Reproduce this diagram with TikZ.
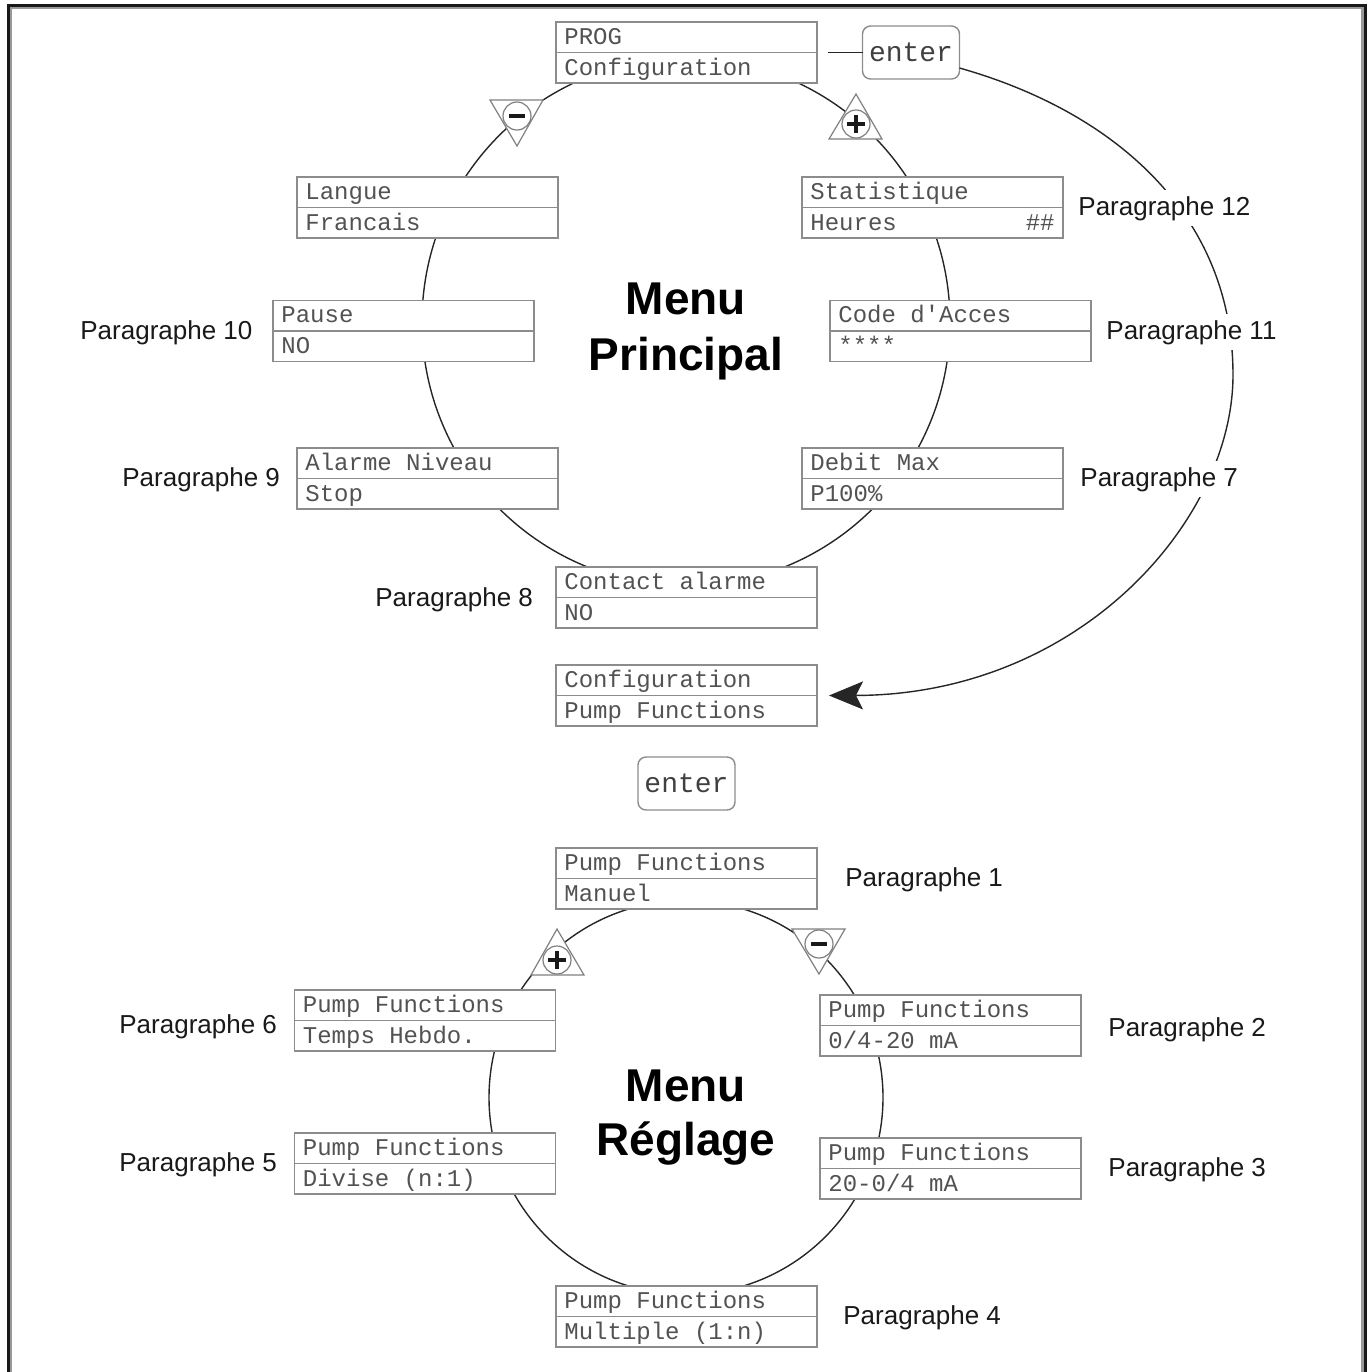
\documentclass[tikz,border=0pt]{standalone}
\usepackage{fontspec}
\setmainfont{Liberation Sans}
\newfontfamily\monof{Liberation Mono}
\usetikzlibrary{arrows.meta,calc}
\tikzset{
  mbox/.style={draw=black!45, line width=0.7pt, fill=white, minimum width=130.5pt, minimum height=30.5pt, inner sep=0pt, outer sep=0pt},
  divline/.style={draw=black!45, line width=0.7pt},
  mtext/.style={anchor=base west, inner sep=0pt, font=\monof\fontsize{12}{14}\selectfont, text=black!68},
  entbox/.style={draw=black!45, line width=0.7pt, fill=white, rounded corners=4pt, minimum width=48.5pt, minimum height=26.5pt, inner sep=0pt, outer sep=0pt, font=\monof\fontsize{14}{16}\selectfont, text=black!75},
  ring/.style={draw=black!85, line width=0.7pt},
  conn/.style={draw=black!85, line width=0.7pt},
  bigarrow/.style={draw=black!85, line width=0.7pt, -{Stealth[length=17pt, width=14pt, inset=3.5pt]}},
  tri/.style={draw=black!50, fill=white, line width=0.6pt},
  symc/.style={circle, draw=black!50, fill=white, line width=0.6pt, minimum size=14pt, inner sep=0pt},
  sym/.style={draw=black!90, line width=1.6pt},
  plabel/.style={anchor=base west, fill=white, inner xsep=1pt, inner ysep=3pt, font=\fontsize{13}{15}\selectfont, text=black!90},
  ttl/.style={anchor=base, inner sep=0pt, font=\bfseries\fontsize{23}{28}\selectfont},
}
\newcommand\menubox[4]{%
  \node[mbox] (#1) at (#2) {};
  \draw[divline] (#1.west) -- (#1.east);
  \node[mtext] (#1-a) at ($(#1.north west)+(8,22)$) {#3};
  \node[mtext] (#1-b) at ($(#1.north west)+(8,53)$) {#4};
}
\begin{document}
\begin{tikzpicture}[x=0.5pt,y=-0.5pt]
\useasboundingbox (0,0) rectangle (1370,1372);
% frame
\draw[black!40, line width=2pt] (10,1400) |- (1363,7) -- (1363,1400);
\draw[black!90, line width=1.5pt] (8,1400) |- (1365,5) -- (1365,1400);
% circles
\draw[ring] (686,322) circle [radius=264];
\draw[ring] (686,1097.5) circle [radius=197];
% titles
\node[ttl] (t1) at (686,314) {Menu};
\node[ttl] (t2) at (686,370) {Principal};
\node[ttl] (t3) at (686,1101) {Menu};
\node[ttl] (t4) at (686,1155) {Réglage};
% upper menu boxes
\menubox{prog}{686.5,52.5}{PROG}{Configuration}
\menubox{langue}{427.5,207.5}{Langue}{Francais}
\menubox{stat}{932.5,207.5}{Statistique}{Heures}
\node[mtext, anchor=base east] (stat-c) at ($(stat.north east)+(-8,53)$) {\#\#};
\menubox{pause}{403.5,331}{Pause}{NO}
\menubox{code}{960.5,331}{Code d'Acces}{****}
\menubox{alarme}{427.5,478.5}{Alarme Niveau}{Stop}
\menubox{debit}{932.5,478.5}{Debit Max}{P100\%}
\menubox{contact}{686.5,597.5}{Contact alarme}{NO}
\menubox{cfg}{686.5,695.5}{Configuration}{Pump Functions}
% enter boxes
\node[entbox] (enter1) at (911,52.5) {enter};
\node[entbox] (enter2) at (686.5,783.5) {enter};
\draw[conn] ([xshift=5.5pt]prog.east) -- (enter1.west);
% lower menu boxes
\menubox{manuel}{686.5,878.5}{Pump Functions}{Manuel}
\menubox{hebdo}{425,1020.5}{Pump Functions}{Temps Hebdo.}
\menubox{ma1}{950.5,1025.5}{Pump Functions}{0/4-20 mA}
\menubox{divise}{425,1163.5}{Pump Functions}{Divise (n:1)}
\menubox{ma2}{950.5,1168.5}{Pump Functions}{20-0/4 mA}
\menubox{multiple}{686.5,1316.5}{Pump Functions}{Multiple (1:n)}
% big arrow
\draw[bigarrow] ([yshift=-7.75pt]enter1.east) .. controls (1115,112) and (1233,215) .. (1233,375)
  .. controls (1233,520) and (1080,695) .. ([xshift=6pt]cfg.east);
% triangles with +/- buttons
\filldraw[tri] (490,100) -- (543,100) -- (517,146) -- cycle;
\node[symc] (b1) at (517,116) {};
\draw[sym] ($(b1)+(-8,0)$) -- ($(b1)+(8,0)$);
\filldraw[tri] (856,94) -- (882,139) -- (829,139) -- cycle;
\node[symc] (b2) at (856,124) {};
\draw[sym] ($(b2)+(-9,0)$) -- ($(b2)+(9,0)$);
\draw[sym] ($(b2)+(0,-9)$) -- ($(b2)+(0,9)$);
\filldraw[tri] (557,929) -- (584,975) -- (531,975) -- cycle;
\node[symc] (b3) at (557,960) {};
\draw[sym] ($(b3)+(-9,0)$) -- ($(b3)+(9,0)$);
\draw[sym] ($(b3)+(0,-9)$) -- ($(b3)+(0,9)$);
\filldraw[tri] (792,929) -- (845,929) -- (819,974) -- cycle;
\node[symc] (b4) at (819,944) {};
\draw[sym] ($(b4)+(-8,0)$) -- ($(b4)+(8,0)$);
% labels
\node[plabel] (p12) at (1076,215) {Paragraphe 12};
\node[plabel] (p11) at (1104,339) {Paragraphe 11};
\node[plabel] (p10) at (78,339) {Paragraphe 10};
\node[plabel] (p9) at (120,486) {Paragraphe 9};
\node[plabel] (p7) at (1078,486) {Paragraphe 7};
\node[plabel] (p8) at (373,606) {Paragraphe 8};
\node[plabel] (p1) at (843,886) {Paragraphe 1};
\node[plabel] (p6) at (117,1033) {Paragraphe 6};
\node[plabel] (p2) at (1106,1036) {Paragraphe 2};
\node[plabel] (p5) at (117,1171) {Paragraphe 5};
\node[plabel] (p3) at (1106,1176) {Paragraphe 3};
\node[plabel] (p4) at (841,1324) {Paragraphe 4};
\end{tikzpicture}
\end{document}
